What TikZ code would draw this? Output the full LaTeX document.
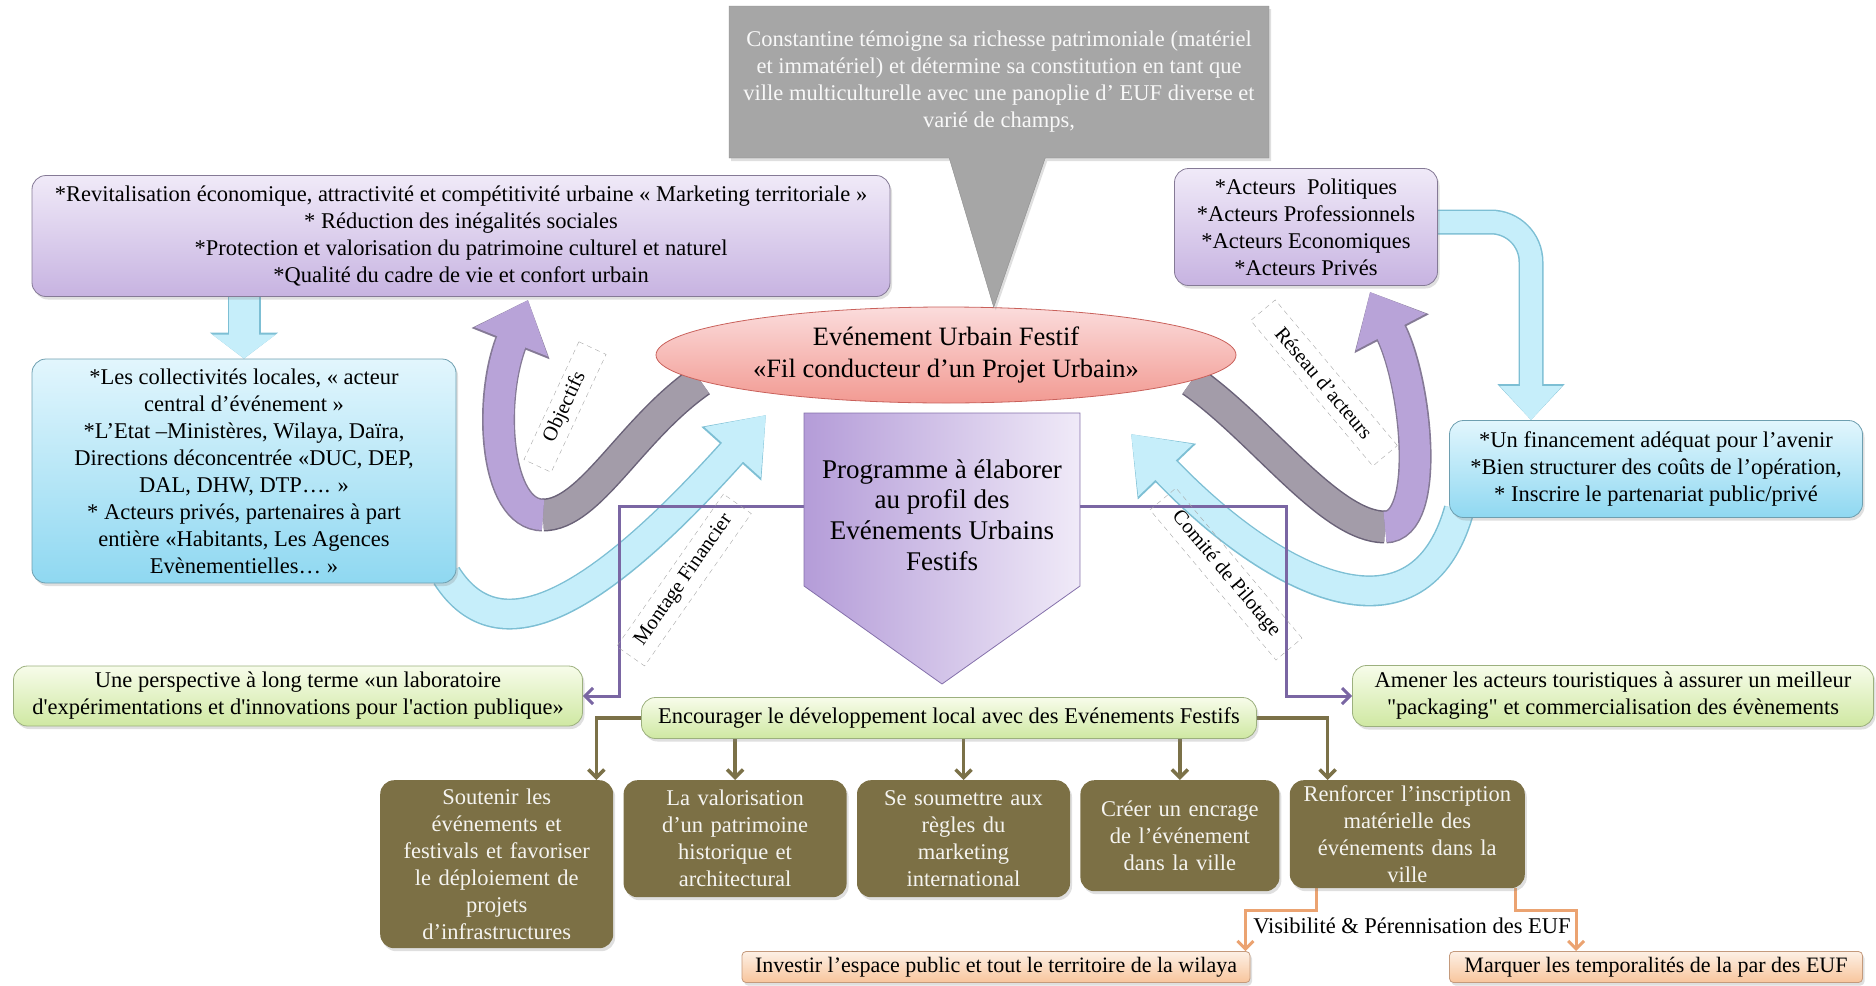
\documentclass[tikz,border=0pt]{standalone}
\usepackage{fontspec}
\setmainfont{Liberation Serif}
\usetikzlibrary{positioning,shapes.geometric,shapes.callouts,arrows.meta,shadows,backgrounds}

\definecolor{lilacTop}{HTML}{F0EAF8}
\definecolor{lilacBot}{HTML}{C7B3E1}
\definecolor{lilacLine}{HTML}{857A96}
\definecolor{skyTop}{HTML}{E2F6FD}
\definecolor{skyBot}{HTML}{8FD8F1}
\definecolor{skyLine}{HTML}{6E9FB0}
\definecolor{limeTop}{HTML}{F7FCEA}
\definecolor{limeBot}{HTML}{CFE8A2}
\definecolor{limeLine}{HTML}{9CB07E}
\definecolor{peachTop}{HTML}{FDF0E5}
\definecolor{peachBot}{HTML}{F8C59C}
\definecolor{peachLine}{HTML}{C49A7C}
\definecolor{khaki}{HTML}{7C7045}
\definecolor{khakiLine}{HTML}{7B7148}
\definecolor{stone}{HTML}{A6A6A6}
\definecolor{roseTop}{HTML}{FBDCDC}
\definecolor{roseBot}{HTML}{F29A92}
\definecolor{roseLine}{HTML}{C9615B}
\definecolor{progL}{HTML}{B49CD8}
\definecolor{progR}{HTML}{F0EAF8}
\definecolor{progLine}{HTML}{8470AB}
\definecolor{violLine}{HTML}{7A66A3}
\definecolor{apricot}{HTML}{EBA371}
\definecolor{iceFill}{HTML}{C6EEFA}
\definecolor{iceLine}{HTML}{7DBFD4}
\definecolor{ribbonViolet}{HTML}{B8A3D8}
\definecolor{ribbonGray}{HTML}{A39CA9}
\definecolor{ribbonEdge}{HTML}{857A96}

\newcommand{\txtsize}{\fontsize{22.5}{27}\selectfont}
\newcommand{\peachsize}{\fontsize{22}{27}\selectfont}
\newcommand{\eufsize}{\fontsize{26.5}{32}\selectfont}
\newcommand{\progsize}{\fontsize{27}{30.7}\selectfont}
\newcommand{\tagsize}{\fontsize{20.5}{22}\selectfont}

\begin{document}
\begin{tikzpicture}[x=1pt, y=-1pt,
    box/.style={rounded corners=14pt, align=center, inner sep=4pt, font=\txtsize,
      drop shadow={shadow xshift=2pt, shadow yshift=-3pt, opacity=0.25}},
    lilac/.style={box, thick, draw=lilacLine, top color=lilacTop, bottom color=lilacBot},
    sky/.style={box, thick, draw=skyLine, top color=skyTop, bottom color=skyBot},
    lime/.style={box, thick, draw=limeLine, top color=limeTop, bottom color=limeBot},
    peach/.style={box, rounded corners=4pt, thick, draw=peachLine, top color=peachTop, bottom color=peachBot,
      font=\peachsize},
    khakibox/.style={box, fill=khaki, text=white!92!khaki, anchor=north west},
    tag/.style={draw=gray!70, dash pattern=on 5pt off 4pt, font=\tagsize, inner sep=4pt},
    icearrow/.style={line width=28pt, draw=iceFill, -{Triangle[length=50pt,width=72pt]},
      preaction={draw=iceLine, line width=31pt, -{Triangle[length=52pt,width=77pt]}}},
    icedown/.style={line width=30pt, draw=iceFill, -{Triangle[length=24pt,width=62pt]},
      preaction={draw=iceLine, line width=33pt, -{Triangle[length=26pt,width=67pt]}}},
    iceelbow/.style={line width=22pt, draw=iceFill, -{Triangle[length=34pt,width=60pt]},
      preaction={draw=iceLine, line width=25pt, -{Triangle[length=36pt,width=65pt]}}},
    violetribbon/.style={line width=30pt, draw=ribbonViolet, -{Triangle[length=45pt,width=76pt]},
      preaction={draw=ribbonEdge, line width=33pt, -{Triangle[length=47pt,width=81pt]}}},
    grayribbon/.style={line width=30pt, draw=ribbonGray,
      preaction={draw=ribbonEdge!80!black, line width=33pt}},
    violline/.style={draw=violLine, line width=3pt,
      {Straight Barb[length=8pt,width=16pt]}-{Straight Barb[length=8pt,width=16pt]}},
    khakiline/.style={draw=khakiLine, line width=3.5pt, -{Straight Barb[length=8pt,width=16pt]}},
    apricotline/.style={draw=apricot, line width=3pt, -{Straight Barb[length=8pt,width=16pt]}}]

\useasboundingbox (0,0) rectangle (1876,985);

% evenement central et bulle
\node[ellipse, thick, draw=roseLine, top color=roseTop, bottom color=roseBot,
  minimum width=580pt, minimum height=96pt, inner sep=0pt, align=center, font=\eufsize]
  (euf) at (946,355) {Evénement Urbain Festif\\«Fil conducteur d’un Projet Urbain»};
\node[rectangle callout, fill=stone, draw=stone!85!black, text=white!92!stone,
  minimum width=540pt, minimum height=152pt, align=center, font=\txtsize,
  callout absolute pointer={(euf.45)}, callout pointer width=96pt,
  drop shadow={shadow xshift=2pt, shadow yshift=-3pt, opacity=0.25}]
  (constantine) at (999,82)
  {Constantine témoigne sa richesse patrimoniale (matériel\\
   et immatériel) et détermine sa constitution en tant que\\
   ville multiculturelle avec une panoplie d’ EUF diverse et\\
   varié de champs,};

% cadres du haut
\node[lilac, minimum width=858pt, minimum height=121pt] (objectifs) at (461,236)
  {*Revitalisation économique, attractivité et compétitivité urbaine « Marketing territoriale »\\
   * Réduction des inégalités sociales\\
   *Protection et valorisation du patrimoine culturel et naturel\\
   *Qualité du cadre de vie et confort urbain};
\node[lilac, minimum width=263pt, minimum height=117pt] (acteurs) at (1306,227)
  {*Acteurs~ Politiques\\ *Acteurs Professionnels\\ *Acteurs Economiques\\ *Acteurs Privés};

\node[sky, minimum width=424pt, minimum height=224pt] (collectivites) at (244,471)
  {*Les collectivités locales, « acteur\\ central d’événement »\\
   *L’Etat –Ministères, Wilaya, Daïra,\\ Directions déconcentrée «DUC, DEP,\\
   DAL, DHW, DTP…. »\\ * Acteurs privés, partenaires à part\\
   entière «Habitants, Les Agences\\ Evènementielles… »};
\node[sky, minimum width=413pt, minimum height=97pt] (financement) at (1656,469)
  {*Un financement adéquat pour l’avenir\\
   *Bien structurer des coûts de l’opération,\\
   * Inscrire le partenariat public/privé};

% programme
\draw[thick, draw=progLine, left color=progL, right color=progR]
  (804,413) -- (1080,413) -- (1080,586) -- (942,684) -- (804,586) -- cycle;
\node[align=center, font=\progsize] (programme) at (942,515)
  {Programme à élaborer\\ au profil des\\ Evénements Urbains\\ Festifs};

% actions
\node[lime, minimum width=569pt, minimum height=60pt] (perspective) at (298,696)
  {Une perspective à long terme «un laboratoire\\
   d\textquotesingle expérimentations et d\textquotesingle innovations pour l\textquotesingle action publique»};
\node[lime, minimum width=521pt, minimum height=61pt] (amener) at (1613,696)
  {Amener les acteurs touristiques à assurer un meilleur\\
   \textquotedbl packaging\textquotedbl{} et commercialisation des évènements};
\node[lime, minimum width=615pt, minimum height=41pt] (encourager) at (949,718)
  {Encourager le développement local avec des Evénements Festifs};

\node[khakibox, text width=225pt, minimum height=168pt] (soutenir) at (380,780)
  {Soutenir les\\ événements et\\ festivals et favoriser\\ le déploiement de\\ projets\\ d’infrastructures};
\node[khakibox, text width=215pt, minimum height=117pt, right=10pt of soutenir.north east, anchor=north west]
  (valorisation) {La valorisation\\ d’un patrimoine\\ historique et\\ architectural};
\node[khakibox, text width=205pt, minimum height=117pt, right=10pt of valorisation.north east, anchor=north west]
  (regles) {Se soumettre aux\\ règles du\\ marketing\\ international};
\node[khakibox, text width=191pt, minimum height=111pt, right=10pt of regles.north east, anchor=north west]
  (encrage) {Créer un encrage\\ de l’événement\\ dans la ville};
\node[khakibox, text width=227pt, minimum height=108pt, right=10pt of encrage.north east, anchor=north west]
  (inscription) {Renforcer l’inscription\\ matérielle des\\ événements dans la\\ ville};

\node[peach, minimum width=508pt, minimum height=31pt] (investir) at (996,967)
  {Investir l’espace public et tout le territoire de la wilaya};
\node[peach, minimum width=413pt, minimum height=31pt] (temporalites) at (1656,967)
  {Marquer les temporalités de la par des EUF};
\node[font=\txtsize] (visibilite) at (1412,926) {Visibilité \& Pérennisation des EUF};

% etiquettes des fleches
\node[tag, rotate=65, minimum width=130pt, minimum height=30pt] (tagObj) at (565,407) {Objectifs};
\node[tag, rotate=-50, minimum width=190pt, minimum height=32pt] (tagRes) at (1324,383) {Réseau d’acteurs};
\node[tag, rotate=55, minimum width=186pt, minimum height=34pt] (tagMon) at (684,580) {Montage Financier};
\node[tag, rotate=-50, minimum width=196pt, minimum height=34pt] (tagCom) at (1226,574) {Comité de Pilotage};

\begin{scope}[on background layer]
  % grosses fleches bleues
  \draw[icedown] (collectivites.north |- objectifs.south) -- (collectivites.north);
  \draw[iceelbow, rounded corners=40pt] ([yshift=5pt]acteurs.east) -| ([xshift=-125pt]financement.north);
  \coordinate (mfTip) at (766,415);
  \coordinate (cpTip) at (1131,434);
  \draw[icearrow] ([shift={(-10pt,8pt)}]collectivites.south east) .. controls (500,660) and (600,600) .. (mfTip);
  \draw[icearrow] ([shift={(10pt,8pt)}]financement.south west) .. controls (1420,650) and (1280,590) .. (cpTip);

  % rubans en U
  \coordinate (objBend) at (543,515);
  \coordinate (objTip) at (528,300);
  \draw[grayribbon] (euf.186) .. controls (630,430) and (590,515) .. (objBend);
  \draw[violetribbon] (objBend) .. controls (495,515) and (488,400) .. (objTip);
  \coordinate (resBend) at (1385,527);
  \coordinate (resTip) at (1370,292);
  \draw[grayribbon] (euf.-6) .. controls (1262,430) and (1330,527) .. (resBend);
  \draw[violetribbon] (resBend) .. controls (1432,527) and (1416,380) .. (resTip);

  % liaisons
  \coordinate (violL) at (619,506);
  \coordinate (violR) at (1286,506);
  \draw[violline] (perspective.east) -| (violL) -- (violR) |- (amener.west);
  \draw[khakiline] (encourager.west) -| ([xshift=-17pt]soutenir.north east);
  \foreach \b in {valorisation,regles,encrage}
    \draw[khakiline] (encourager.south -| \b.north) -- (\b.north);
  \draw[khakiline] (encourager.east) -| ([xshift=38pt]inscription.north west);
  \draw[apricotline] ([xshift=27pt]inscription.south west) -- ++(0,22) -| ([xshift=-5pt]investir.north east);
  \draw[apricotline] ([xshift=-10pt]inscription.south east) -- ++(0,22) -| ([xshift=127pt]temporalites.north west);
\end{scope}
\end{tikzpicture}
\end{document}
